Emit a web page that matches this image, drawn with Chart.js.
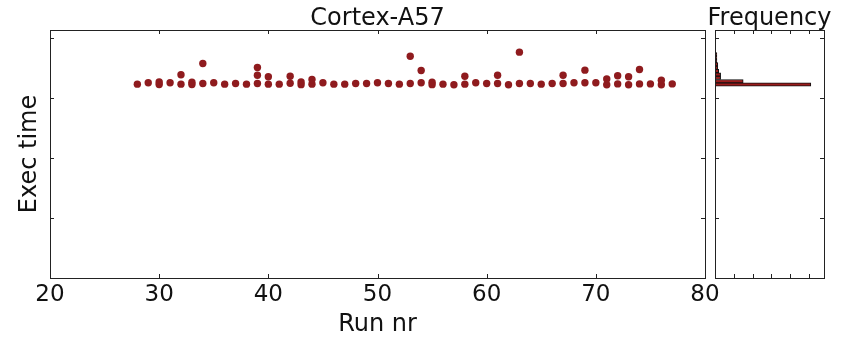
<!DOCTYPE html>
<html>
<head>
<meta charset="utf-8">
<script src="https://cdn.jsdelivr.net/npm/chart.js@4.4.1/dist/chart.umd.min.js"></script>
<style>
  html, body { margin: 0; padding: 0; background: #fff; }
  #wrap { position: relative; width: 852px; height: 339px; }
  #wrap canvas { position: absolute; left: 0; top: 0; }
</style>
</head>
<body>
<div id="wrap">
  <canvas id="runChart" width="852" height="339"></canvas>
  <canvas id="histChart" width="852" height="339"></canvas>
</div>
<script>
// one entry per measured point (some runs have several)
const runNr = [
  28, 29, 30, 30, 31, 32, 32, 33, 33, 34, 34, 35, 36, 37, 38, 39, 39, 39,
  40, 40, 41, 42, 42, 43, 43, 44, 44, 45, 46, 47, 48, 49, 50, 51, 52, 53, 53,
  54, 54, 55, 55, 56, 57, 58, 58, 59, 60, 61, 61, 62, 63, 63, 64, 65, 66,
  67, 67, 68, 69, 69, 70, 71, 71, 72, 72, 73, 73, 74, 74, 75, 76, 76, 77
];
const execTime = [
  3.228, 3.252, 3.222, 3.266, 3.252, 3.228, 3.384, 3.222, 3.260, 3.238, 3.573, 3.252, 3.228, 3.238, 3.228, 3.238, 3.377, 3.506,
  3.228, 3.351, 3.228, 3.244, 3.361, 3.220, 3.264, 3.228, 3.306, 3.252, 3.228, 3.228, 3.238, 3.238, 3.252, 3.238, 3.228, 3.238, 3.694,
  3.252, 3.456, 3.220, 3.260, 3.228, 3.218, 3.228, 3.361, 3.252, 3.238, 3.238, 3.377, 3.218, 3.238, 3.761, 3.238, 3.228, 3.238,
  3.238, 3.377, 3.252, 3.252, 3.461, 3.252, 3.218, 3.316, 3.232, 3.367, 3.218, 3.351, 3.232, 3.472, 3.232, 3.218, 3.294, 3.232
];

// histogram of exec time (bin centres and counts)
const histBins   = [3.222, 3.278, 3.334, 3.390, 3.446, 3.502, 3.558, 3.614, 3.670, 3.726];
const histCounts = [51, 15, 3, 3, 2, 1.5, 1.5, 1, 1, 1];

const runTicks  = [20, 30, 40, 50, 60, 70, 80];
const timeTicks = [0, 1, 2, 3, 4];
const freqTicks = [0, 10, 20, 30, 40, 50];

const FONT = "'DejaVu Sans', sans-serif";
const DOT = '#8f1b1e';

// matplotlib style frame with inward ticks on all sides
const frameTicks = {
  id: 'frameTicks',
  afterDraw(chart) {
    const { ctx, chartArea: a, scales } = chart;
    ctx.save();
    ctx.strokeStyle = '#222';
    ctx.lineWidth = 1;
    ctx.beginPath();
    Object.values(scales).forEach(s => {
      s.ticks.forEach(t => {
        const p = Math.round(s.getPixelForValue(t.value)) + 0.5;
        if (s.isHorizontal()) {
          ctx.moveTo(p, a.bottom); ctx.lineTo(p, a.bottom - 4);
          ctx.moveTo(p, a.top); ctx.lineTo(p, a.top + 4);
        } else {
          ctx.moveTo(a.left, p); ctx.lineTo(a.left + 4, p);
          ctx.moveTo(a.right, p); ctx.lineTo(a.right - 4, p);
        }
      });
    });
    ctx.stroke();
    ctx.strokeRect(Math.round(a.left) + 0.5, Math.round(a.top) + 0.5,
                   Math.round(a.right - a.left), Math.round(a.bottom - a.top));
    ctx.restore();
  }
};

// title centred over the plot area, not squeezed to its width
const panelTitle = {
  id: 'panelTitle',
  afterDraw(chart, args, opts) {
    const { ctx, chartArea: a } = chart;
    ctx.save();
    ctx.font = `24px ${FONT}`;
    ctx.fillStyle = '#111';
    ctx.textAlign = 'center';
    ctx.textBaseline = 'alphabetic';
    ctx.fillText(opts.text, (a.left + a.right) / 2, 25);
    ctx.restore();
  }
};

const setTicks = list => s => { s.ticks = list.map(v => ({ value: v })); };

new Chart(document.getElementById('runChart'), {
  type: 'scatter',
  data: {
    datasets: [{
      data: runNr.map((x, i) => ({ x, y: execTime[i] })),
      backgroundColor: DOT,
      borderColor: DOT,
      borderWidth: 0,
      pointRadius: 3.7
    }]
  },
  options: {
    responsive: false,
    animation: false,
    layout: { padding: { left: 0, right: 147, top: 30, bottom: 0 } },
    plugins: {
      legend: { display: false },
      tooltip: { enabled: false },
      panelTitle: { text: 'Cortex-A57' }
    },
    scales: {
      x: {
        type: 'linear', min: 20, max: 80,
        afterBuildTicks: setTicks(runTicks),
        afterFit: s => { s.height = 61; },
        grid: { display: false, drawTicks: false },
        border: { display: false },
        ticks: { color: '#111', padding: 3.5, font: { family: FONT, size: 23 } },
        title: {
          display: true, text: 'Run nr', color: '#111',
          font: { family: FONT, size: 24 }, padding: { top: 0, bottom: 0 }
        }
      },
      y: {
        type: 'linear', min: 0, max: 4.13,
        afterBuildTicks: setTicks(timeTicks),
        afterFit: s => { s.width = 50; },
        grid: { display: false, drawTicks: false },
        border: { display: false },
        ticks: { display: false },
        title: {
          display: true, text: 'Exec time', color: '#111',
          font: { family: FONT, size: 24 }, padding: { top: 15.6, bottom: 0 }
        }
      }
    }
  },
  plugins: [frameTicks, panelTitle]
});

new Chart(document.getElementById('histChart'), {
  type: 'bar',
  data: {
    datasets: [{
      data: histBins.map((y, i) => ({ x: histCounts[i], y })),
      backgroundColor: '#9b1c1c',
      borderColor: '#111',
      borderWidth: 1,
      borderSkipped: false,
      barPercentage: 1,
      categoryPercentage: 1
    }]
  },
  options: {
    indexAxis: 'y',
    responsive: false,
    animation: false,
    layout: { padding: { left: 715, right: 28, top: 30, bottom: 0 } },
    plugins: {
      legend: { display: false },
      tooltip: { enabled: false },
      panelTitle: { text: 'Frequency' }
    },
    scales: {
      x: {
        type: 'linear', min: 0, max: 58,
        afterBuildTicks: setTicks(freqTicks),
        afterFit: s => { s.height = 61; },
        grid: { display: false, drawTicks: false },
        border: { display: false },
        ticks: { display: false }
      },
      y: {
        type: 'linear', min: 0, max: 4.13, offset: false,
        afterBuildTicks: setTicks(timeTicks),
        afterFit: s => { s.width = 0; },
        grid: { display: false, drawTicks: false },
        border: { display: false },
        ticks: { display: false }
      }
    }
  },
  plugins: [frameTicks, panelTitle]
});
</script>
</body>
</html>
